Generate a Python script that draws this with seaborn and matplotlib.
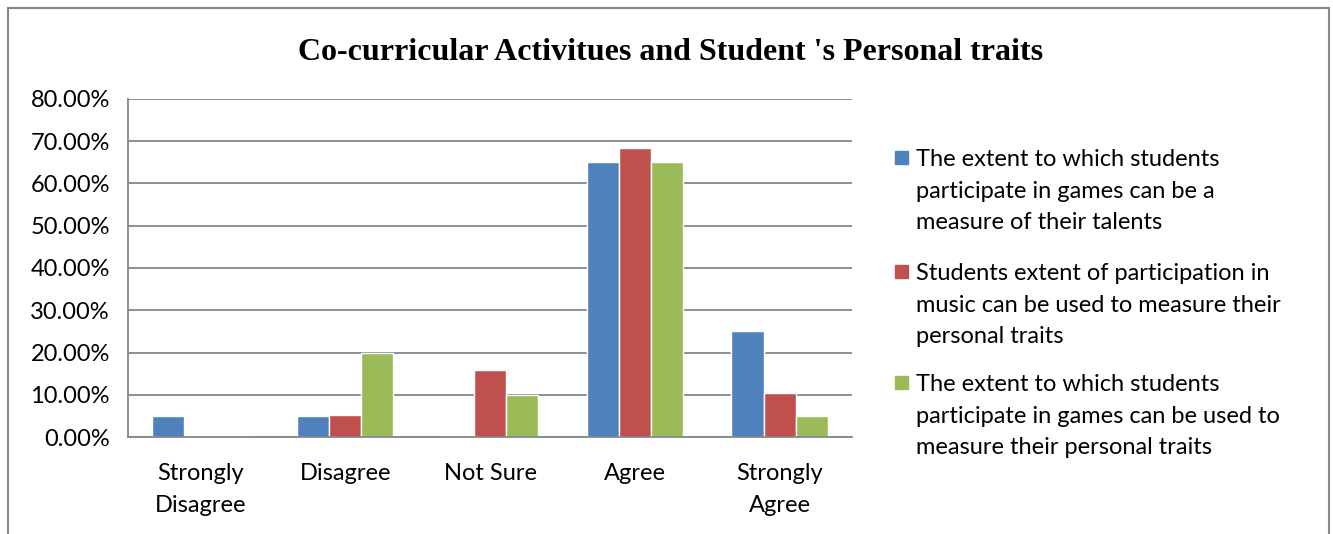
import matplotlib

matplotlib.use("Agg")
import matplotlib.pyplot as plt  # noqa: E402
import pandas as pd  # noqa: E402
import seaborn as sns  # noqa: E402
from matplotlib.patches import Rectangle  # noqa: E402
from matplotlib.ticker import PercentFormatter, FixedLocator  # noqa: E402

categories = ["Strongly\nDisagree", "Disagree", "Not Sure", "Agree", "Strongly\nAgree"]
series = [
    "The extent to which students\nparticipate in games can be a\nmeasure of their talents",
    "Students extent of participation in\nmusic can be used to measure their\npersonal traits",
    "The extent to which students\nparticipate in games can be used to\nmeasure their personal traits",
]
talents_games = [5.0, 5.0, 0.0, 65.0, 25.0]
traits_music = [0.0, 5.26, 15.79, 68.42, 10.53]
traits_games = [0.0, 20.0, 10.0, 65.0, 5.0]
colors = ["#4F81BD", "#C0504D", "#9BBB59"]

rows = []
for name, vals in zip(series, [talents_games, traits_music, traits_games]):
    for cat, v in zip(categories, vals):
        rows.append({"category": cat, "series": name, "value": v})
df = pd.DataFrame(rows)

sns.set_style("white")
plt.rcParams["font.family"] = ["Lato", "DejaVu Sans"]

W, H = 1333, 534
fig = plt.figure(figsize=(W / 100, H / 100), dpi=100)
ax = fig.add_axes([128 / W, 1 - 437 / H, 724 / W, 338 / H])

sns.barplot(
    data=df, x="category", y="value", hue="series",
    palette=colors, width=0.667, saturation=1, ax=ax, legend=False,
)

ax.set_ylim(0, 80)
ax.set_xlim(-0.5, len(categories) - 0.5)
ax.set_yticks(range(0, 81, 10))
ax.yaxis.set_major_formatter(PercentFormatter(decimals=2))
ax.yaxis.grid(True, color="#868686", linewidth=1.3)
ax.set_axisbelow(True)
ax.set_xlabel("")
ax.set_ylabel("")

# ticks at category boundaries, labels at centres
ax.xaxis.set_minor_locator(FixedLocator([i - 0.5 for i in range(len(categories) + 1)]))
ax.tick_params(axis="x", which="major", length=0, labelsize=17, pad=19, colors="black")
ax.tick_params(axis="x", which="minor", length=8, width=1.3, color="#868686")
ax.tick_params(axis="y", length=8, width=1.3, color="#868686", labelsize=17, pad=5,
               labelcolor="black")
for lbl in ax.get_xticklabels():
    lbl.set_linespacing(1.65)

for side in ["top", "right"]:
    ax.spines[side].set_visible(False)
for side in ["left", "bottom"]:
    ax.spines[side].set_color("#868686")
    ax.spines[side].set_linewidth(1.3)

# legend: square beside the first line of each wrapped label
first_line_y = [158, 272, 383]
for name, c, yy in zip(series, colors, first_line_y):
    fig.patches.append(Rectangle(
        (895 / W, 1 - (yy + 6) / H), 13 / W, 13 / H,
        transform=fig.transFigure, color=c, figure=fig,
    ))
    fig.text(916 / W, 1 - (yy - 9) / H, name, fontsize=17, va="top", ha="left",
             linespacing=1.62, color="black")

fig.suptitle(
    "Co-curricular Activitues and Student 's Personal traits",
    x=0.503, y=1 - 52 / H, va="center", fontsize=23, fontweight="bold",
    family="Liberation Serif", color="black",
)

fig.patches.append(Rectangle(
    (8 / W, -0.1), 1321 / W, 1.1 - 8 / H, transform=fig.transFigure,
    fill=False, edgecolor="#868686", linewidth=1.5, figure=fig,
))

fig.savefig("out.png", dpi=100)
